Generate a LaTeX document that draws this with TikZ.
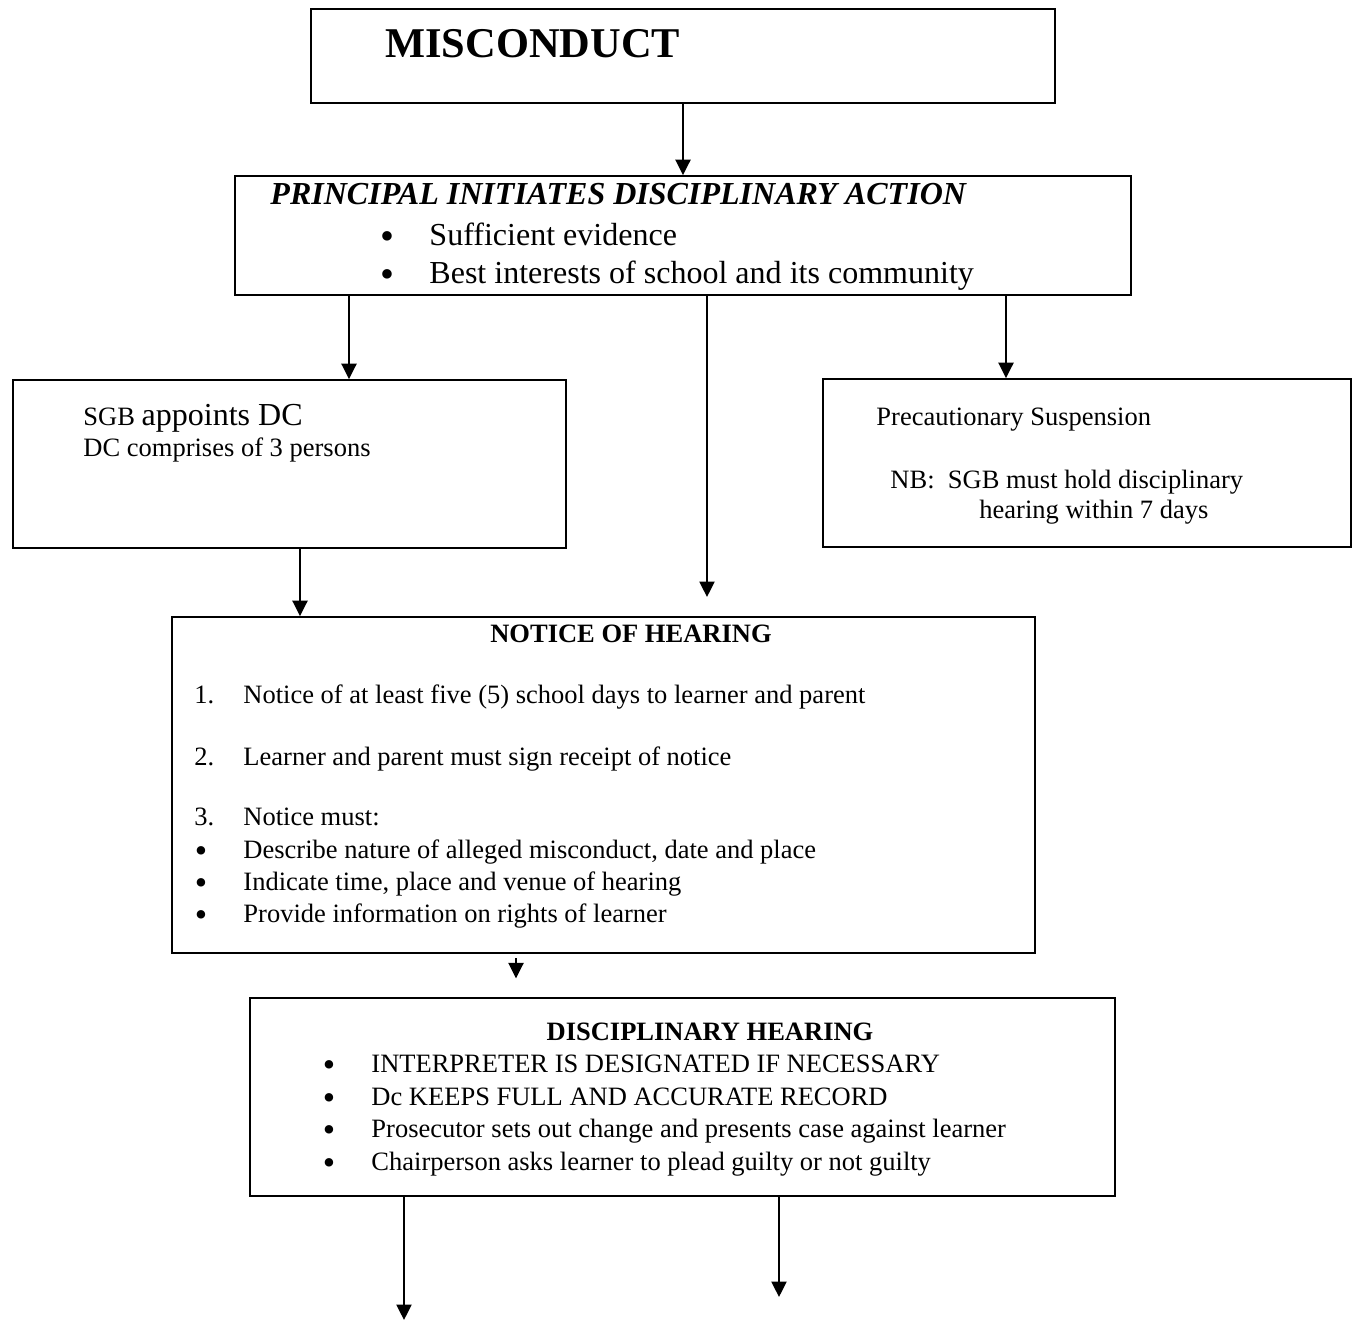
\documentclass[tikz,border=0pt]{standalone}
\usepackage{fontspec}
\setmainfont{Liberation Serif}
\usepackage{tikz}
\usetikzlibrary{arrows.meta,positioning,fit}
\tikzset{
  box/.style={draw,line width=0.8pt,inner sep=0pt},
  txt/.style={anchor=base west,inner sep=0pt,font=\fontsize{12}{14}\selectfont},
  big/.style={txt,font=\fontsize{14.5}{16}\selectfont},
  ttl/.style={anchor=base,inner sep=0pt,font=\bfseries\fontsize{12}{14}\selectfont},
  dot/.style={anchor=base,inner sep=0pt,font=\fontsize{16}{16}\selectfont},
  bigdot/.style={dot,font=\fontsize{18}{18}\selectfont}
}
\begin{document}
\begin{tikzpicture}[x=0.4527pt,y=-0.4527pt,>={Triangle[length=7pt,width=6.8pt]}]
            \useasboundingbox (0,0) rectangle (1352,1321);
            \node [box,fit={(311,9) (1055,103)}] (misc) {};
            \node [box,fit={(235,176) (1131,295)}] (prin) {};
            \node [box,fit={(13,380) (566,548)}] (sgb) {};
            \node [box,fit={(823,379) (1351,547)}] (susp) {};
            \node [box,fit={(172,617) (1035,953)}] (notice) {};
            \node [box,fit={(250,998) (1115,1196)}] (disc) {};
            \node [txt,font=\bfseries\fontsize{19.2}{22}\selectfont] (tmisc) at (385,57) {MISCONDUCT};
            \node [big,font=\bfseries\itshape\fontsize{14.5}{16}\selectfont] (tprin) at (270,204) {PRINCIPAL INITIATES DISCIPLINARY ACTION};
            \foreach \y/\t in {245/Sufficient evidence,283/Best interests of school and its community} {
              \node [bigdot] (pb\y) at (387,\y+4) {\textbullet};
              \node [big] (pt\y) at (429,\y) {\t};
            }
            \node [txt] (tsgb) at (83,425) {SGB \fontsize{14.5}{16}\selectfont appoints DC};
            \node [txt] (tdc) at (83,456) {DC comprises of 3 persons};
            \node [txt] (tsusp) at (876,425) {Precautionary Suspension};
            \node [txt] (tnb) at (890,488) {NB:\ \ SGB must hold disciplinary};
            \node [txt] (tnb2) at (979,518) {hearing within 7 days};
            \node [ttl] (tnotice) at (631,642) {NOTICE OF HEARING};
            \foreach \y/\n in {703/1.,765/2.,825/3.} {
              \node [txt] (nn\y) at (194,\y) {\n};
            }
            \foreach \y in {858,890,922} {
              \node [dot] (nb\y) at (201,\y+4) {\textbullet};
            }
            \foreach \y/\t in {703/Notice of at least five (5) school days to learner and parent,765/Learner and parent must sign receipt of notice,825/Notice must:,858/{Describe nature of alleged misconduct, date and place},890/{Indicate time, place and venue of hearing},922/Provide information on rights of learner} {
              \node [txt] (nt\y) at (243,\y) {\t};
            }
            \node [ttl] (tdisc) at (710,1040) {DISCIPLINARY HEARING};
            \foreach \y/\t in {1072/INTERPRETER IS DESIGNATED IF NECESSARY,1105/Dc KEEPS FULL AND ACCURATE RECORD,1137/Prosecutor sets out change and presents case against learner,1170/Chairperson asks learner to plead guilty or not guilty} {
              \node [dot] (db\y) at (329,\y+4) {\textbullet};
              \node [txt] (dt\y) at (371,\y) {\t};
            }
            \coordinate (a1) at (349,0);
            \coordinate (a2) at (707,597);
            \coordinate (a3) at (1006,0);
            \coordinate (a4) at (300,0);
            \coordinate (a5) at (516,0);
            \coordinate (a6) at (404,1320);
            \coordinate (a7) at (779,1297);
            \draw [->,line width=1pt] (misc) -- (prin);
            \draw [->,line width=1pt] (prin.south -| a1) -- (sgb.north -| a1);
            \draw [->,line width=1pt] (prin.south -| a2) -- (a2);
            \draw [->,line width=1pt] (prin.south -| a3) -- (susp.north -| a3);
            \draw [->,line width=1pt] (sgb.south -| a4) -- (notice.north -| a4);
            \draw [->,line width=1pt,shorten <=2pt,shorten >=8.5pt] (notice.south -| a5) -- (disc.north -| a5);
            \draw [->,line width=1pt] (disc.south -| a6) -- (a6);
            \draw [->,line width=1pt] (disc.south -| a7) -- (a7);
\end{tikzpicture}
\end{document}
